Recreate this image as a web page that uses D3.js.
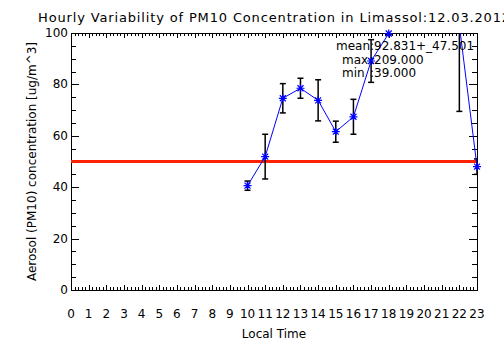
<!DOCTYPE html>
<html lang="en">
<head>
  <meta charset="UTF-8">
  <title>PM10 Limassol</title>
  <style>
    body { margin: 0; background: #fff; }
    text { font-family: "DejaVu Sans", sans-serif; fill: #000; }
  </style>
</head>
<body>
  <div id="svg"></div>
</body>
<script src="https://cdn.jsdelivr.net/npm/d3@7"></script>
<script type="text/javascript">
  // 每小时平均值和标准差
  const hours = [10, 11, 12, 13, 14, 15, 16, 17, 18, 19, 20, 21, 22, 23]
  const pm10 = [40.6, 51.9, 74.6, 78.5, 73.8, 61.6, 67.4, 89.1, 99.8, 158, 209, 144, 103, 48]
  const stdev = [1.8, 8.7, 5.7, 3.9, 8.0, 4.1, 6.8, 8.3, 0.4, 40, 70, 30, 33.5, 3]
  const xTicks = d3.range(0, 24)
  const yTicks = [0, 20, 40, 60, 80, 100]
  const limit = 50
  const stats = [["mean", ":92.831+_47.501"], ["max", ":209.000"], ["min", ":39.000"]]

  const width = 504
  const height = 361
  const padding = {top: 33, left: 71, right: 27, bottom: 71}

  const svg = d3.select("#svg").append("svg").attr("width", width).attr("height", height)

  const xScale = d3.scaleLinear().domain([0, 23]).range([padding.left, width - padding.right])
  const yScale = d3.scaleLinear().domain([0, 100]).range([height - padding.bottom, padding.top])

  svg.append("clipPath").attr("id", "plot")
    .append("rect")
    .attr("x", padding.left).attr("y", padding.top)
    .attr("width", width - padding.left - padding.right)
    .attr("height", height - padding.top - padding.bottom)

  const x0 = padding.left, x1 = width - padding.right
  const y0 = height - padding.bottom, y1 = padding.top

  // 坐标轴（四边框）
  const axes = svg.append("g").attr("stroke", "#000").attr("stroke-width", 1)
  axes.append("rect").attr("x", x0 + 0.5).attr("y", y1 + 0.5)
    .attr("width", x1 - x0).attr("height", y0 - y1).attr("fill", "none")

  // x 次刻度：每小时 5 格
  const xMinor = d3.range(0, 23.001, 0.2)
  xMinor.forEach(v => {
    const major = Math.abs(v - Math.round(v)) < 1e-6
    const len = major ? 5 : 3
    const x = Math.round(xScale(v)) + 0.5
    axes.append("line").attr("x1", x).attr("x2", x).attr("y1", y0).attr("y2", y0 - len)
    axes.append("line").attr("x1", x).attr("x2", x).attr("y1", y1).attr("y2", y1 + len)
  })

  // y 次刻度：每 5
  d3.range(0, 100.001, 5).forEach(v => {
    const len = v % 20 === 0 ? 8 : 5
    const y = Math.round(yScale(v)) + 0.5
    axes.append("line").attr("x1", x0).attr("x2", x0 + len).attr("y1", y).attr("y2", y)
    axes.append("line").attr("x1", x1).attr("x2", x1 - len).attr("y1", y).attr("y2", y)
  })

  // 刻度标签
  svg.selectAll(".xl").data(xTicks).enter().append("text")
    .attr("class", "xl")
    .attr("x", d => xScale(d))
    .attr("y", 318)
    .attr("text-anchor", "middle")
    .attr("font-size", "12px")
    .text(d => d)

  svg.selectAll(".yl").data(yTicks).enter().append("text")
    .attr("class", "yl")
    .attr("x", 68)
    .attr("y", d => yScale(d) + 4)
    .attr("text-anchor", "end")
    .attr("font-size", "12px")
    .text(d => d)

  // 标题和轴标题
  svg.append("text").attr("x", 38).attr("y", 22).attr("font-size", "13px")
    .attr("letter-spacing", "0.85px")
    .text("Hourly Variability of PM10 Concentration in Limassol:12.03.2012")

  svg.append("text").attr("x", (x0 + x1) / 2).attr("y", 338)
    .attr("text-anchor", "middle").attr("font-size", "12px")
    .text("Local Time")

  svg.append("text")
    .attr("transform", "translate(36," + ((y0 + y1) / 2) + ") rotate(-90)")
    .attr("text-anchor", "middle").attr("font-size", "12px")
    .text("Aerosol (PM10) concentration [ug/m^3]")

  // 阈值红线
  svg.append("line")
    .attr("x1", x0).attr("x2", x1)
    .attr("y1", yScale(limit)).attr("y2", yScale(limit))
    .attr("stroke", "#ff2200").attr("stroke-width", 3)

  const plot = svg.append("g").attr("clip-path", "url(#plot)")
  const data = hours.map((h, i) => ({h: h, v: pm10[i], e: stdev[i]}))

  // 误差棒
  const err = plot.selectAll(".err").data(data).enter().append("g")
    .attr("stroke", "#000").attr("stroke-width", 1.5)
  err.append("line")
    .attr("x1", d => xScale(d.h)).attr("x2", d => xScale(d.h))
    .attr("y1", d => yScale(d.v - d.e)).attr("y2", d => yScale(d.v + d.e))
  err.append("line")
    .attr("x1", d => xScale(d.h) - 3).attr("x2", d => xScale(d.h) + 3)
    .attr("y1", d => yScale(d.v - d.e)).attr("y2", d => yScale(d.v - d.e))
  err.append("line")
    .attr("x1", d => xScale(d.h) - 3).attr("x2", d => xScale(d.h) + 3)
    .attr("y1", d => yScale(d.v + d.e)).attr("y2", d => yScale(d.v + d.e))

  // 折线
  const line = d3.line().x(d => xScale(d.h)).y(d => yScale(d.v))
  plot.append("path").datum(data)
    .attr("d", line).attr("fill", "none")
    .attr("stroke", "#0000ff").attr("stroke-width", 1)

  // 星号标记（只画在范围内的点）
  const star = "M-4,0L4,0M0,-4L0,4M-3,-3L3,3M-3,3L3,-3"
  svg.selectAll(".pt").data(data.filter(d => d.v >= 0 && d.v <= 100)).enter().append("path")
    .attr("class", "pt")
    .attr("transform", d => "translate(" + xScale(d.h) + "," + yScale(d.v) + ")")
    .attr("d", star).attr("stroke", "#0000ff").attr("stroke-width", 1.2).attr("fill", "none")

  // 统计文字
  stats.forEach((s, i) => {
    svg.append("text").attr("x", i === 0 ? 336 : 342).attr("y", 50 + i * 13.5)
      .attr("font-size", "12px").text(s[0])
    svg.append("text").attr("x", 370).attr("y", 50 + i * 13.5)
      .attr("font-size", "12px").text(s[1])
  })
</script>
</html>
